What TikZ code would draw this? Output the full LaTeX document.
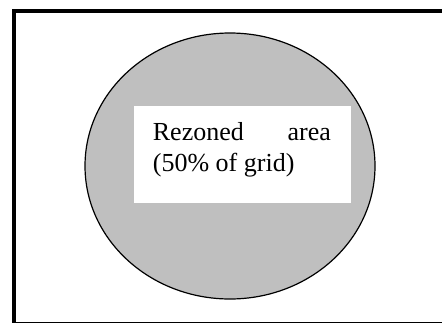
\documentclass[tikz,border=0pt]{standalone}
\usepackage{fontspec}
\setmainfont{Liberation Serif}
\usetikzlibrary{shapes.geometric}
\begin{document}
\begin{tikzpicture}[x=1pt,y=-1pt,
  frame/.style={draw=black,line width=4pt},
  zone/.style={draw=black,line width=1.2pt,fill=black!25},
  labelbox/.style={fill=white,draw=none},
  labeltext/.style={font=\fontsize{26}{31}\selectfont,inner sep=0pt,anchor=base west}]
\useasboundingbox (0,0) rectangle (442,322);
\clip (0,0) rectangle (442,322);
% outer frame
\draw[frame] (14,11) rectangle (448,323.5);
% rezoned region
\node[zone,ellipse,minimum width=290pt,minimum height=266pt,inner sep=0pt] (zone) at (230,166) {};
\fill[labelbox] (134,106) rectangle (351,203);
\node[labeltext] (line1) at (152.7,140.7) {\makebox[178pt][s]{Rezoned\hfill area}};
\node[labeltext] (line2) at (152.7,171.7) {(50\% of grid)};
\end{tikzpicture}
\end{document}
